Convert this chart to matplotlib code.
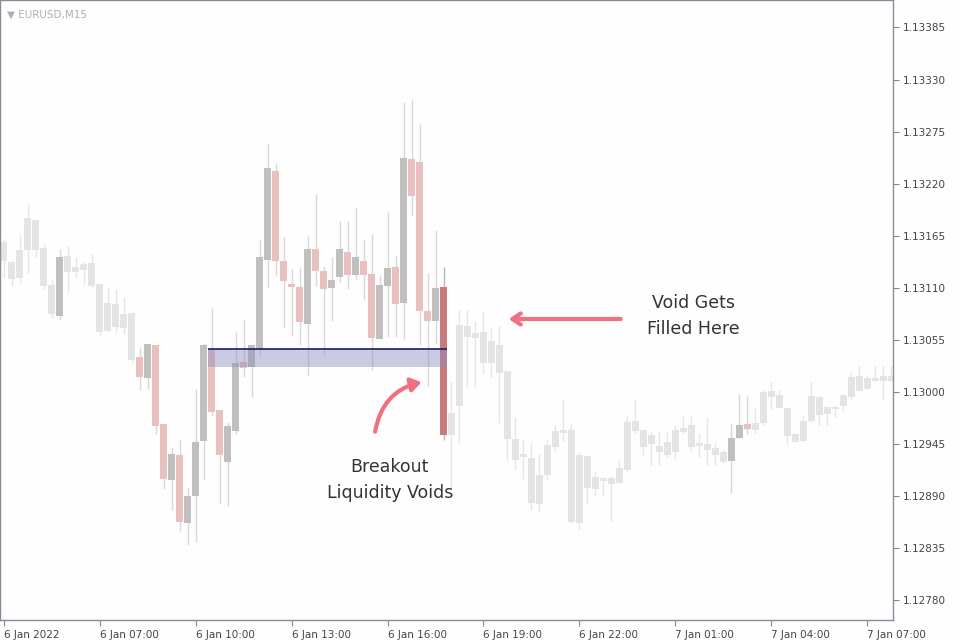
import matplotlib
matplotlib.use("Agg")
import matplotlib.pyplot as plt
from matplotlib.patches import FancyArrowPatch, Rectangle

# candles, EURUSD M15 (index 0 = first candle on the left)
opens = [1.13158, 1.13137, 1.13120, 1.13150, 1.13182, 1.13152, 1.13113, 1.13080, 1.13127, 1.13132,
         1.13129, 1.13136, 1.13114, 1.13064, 1.13093, 1.13068, 1.13083, 1.13037, 1.13015, 1.13050,
         1.12966, 1.12907, 1.12933, 1.12862, 1.12890, 1.12948, 1.13045, 1.12981, 1.12926, 1.12959,
         1.13032, 1.13026, 1.13045, 1.13139, 1.13233, 1.13138, 1.13114, 1.13111, 1.13072, 1.13151,
         1.13128, 1.13110, 1.13121, 1.13148, 1.13124, 1.13138, 1.13125, 1.13056, 1.13112, 1.13132,
         1.13094, 1.13246, 1.13243, 1.13085, 1.13075, 1.13111, 1.12954, 1.12985, 1.13070, 1.13062,
         1.13063, 1.13054, 1.13049, 1.13022, 1.12950, 1.12934, 1.12930, 1.12882, 1.12912, 1.12942,
         1.12959, 1.12960, 1.12862, 1.12932, 1.12897, 1.12909, 1.12909, 1.12904, 1.12917, 1.12969,
         1.12960, 1.12945, 1.12943, 1.12933, 1.12936, 1.12962, 1.12965, 1.12946, 1.12945, 1.12941,
         1.12937, 1.12927, 1.12951, 1.12966, 1.12960, 1.12967, 1.13001, 1.12997, 1.12983, 1.12955,
         1.12948, 1.12969, 1.12995, 1.12977, 1.12984, 1.12985, 1.12995, 1.13017, 1.13003, 1.13015,
         1.13012, 1.13017]
highs = [1.13162, 1.13138, 1.13166, 1.13198, 1.13182, 1.13156, 1.13119, 1.13151, 1.13155, 1.13142,
         1.13137, 1.13146, 1.13114, 1.13111, 1.13109, 1.13100, 1.13083, 1.13047, 1.13052, 1.13050,
         1.12967, 1.12942, 1.12950, 1.12898, 1.13003, 1.13052, 1.13089, 1.12981, 1.12968, 1.13063,
         1.13077, 1.13050, 1.13160, 1.13262, 1.13242, 1.13164, 1.13130, 1.13132, 1.13165, 1.13209,
         1.13133, 1.13143, 1.13181, 1.13180, 1.13194, 1.13162, 1.13167, 1.13123, 1.13190, 1.13144,
         1.13306, 1.13309, 1.13283, 1.13126, 1.13171, 1.13132, 1.13012, 1.13086, 1.13086, 1.13075,
         1.13085, 1.13068, 1.13070, 1.13022, 1.12973, 1.12950, 1.12946, 1.12934, 1.12949, 1.12965,
         1.12992, 1.12966, 1.12937, 1.12932, 1.12915, 1.12910, 1.12911, 1.12928, 1.12975, 1.12993,
         1.12960, 1.12959, 1.12959, 1.12958, 1.12965, 1.12974, 1.12974, 1.12956, 1.12972, 1.12946,
         1.12939, 1.12967, 1.12998, 1.12996, 1.12983, 1.13002, 1.13011, 1.13002, 1.12983, 1.12955,
         1.12975, 1.13011, 1.12996, 1.12984, 1.12985, 1.12998, 1.13021, 1.13028, 1.13018, 1.13028,
         1.13028, 1.13027]
lows = [1.13120, 1.13112, 1.13115, 1.13126, 1.13143, 1.13109, 1.13078, 1.13076, 1.13105, 1.13121,
        1.13114, 1.13111, 1.13060, 1.13063, 1.13063, 1.13061, 1.13030, 1.13002, 1.13003, 1.12955,
        1.12897, 1.12875, 1.12853, 1.12838, 1.12841, 1.12908, 1.12975, 1.12882, 1.12879, 1.12956,
        1.13016, 1.12995, 1.13038, 1.13111, 1.13123, 1.13067, 1.13059, 1.13049, 1.13017, 1.13112,
        1.13039, 1.13075, 1.13116, 1.13109, 1.13119, 1.13097, 1.13023, 1.13056, 1.13058, 1.13058,
        1.13056, 1.13187, 1.13050, 1.13006, 1.13051, 1.12949, 1.12898, 1.12946, 1.13005, 1.13005,
        1.13020, 1.13015, 1.12967, 1.12928, 1.12919, 1.12908, 1.12875, 1.12873, 1.12908, 1.12938,
        1.12948, 1.12861, 1.12854, 1.12882, 1.12890, 1.12890, 1.12864, 1.12903, 1.12915, 1.12956,
        1.12933, 1.12922, 1.12923, 1.12930, 1.12929, 1.12955, 1.12938, 1.12931, 1.12923, 1.12923,
        1.12925, 1.12893, 1.12951, 1.12955, 1.12955, 1.12965, 1.12982, 1.12983, 1.12945, 1.12947,
        1.12948, 1.12968, 1.12964, 1.12964, 1.12973, 1.12980, 1.12992, 1.13001, 1.13003, 1.13012,
        1.12991, 1.13012]
closes = [1.13138, 1.13119, 1.13150, 1.13184, 1.13150, 1.13112, 1.13082, 1.13143, 1.13144, 1.13127,
          1.13135, 1.13112, 1.13063, 1.13094, 1.13069, 1.13082, 1.13034, 1.13016, 1.13051, 1.12964,
          1.12908, 1.12934, 1.12863, 1.12890, 1.12947, 1.13049, 1.12979, 1.12933, 1.12964, 1.13031,
          1.13025, 1.13049, 1.13142, 1.13236, 1.13138, 1.13117, 1.13111, 1.13074, 1.13151, 1.13128,
          1.13109, 1.13118, 1.13151, 1.13123, 1.13142, 1.13124, 1.13057, 1.13113, 1.13131, 1.13093,
          1.13247, 1.13207, 1.13085, 1.13075, 1.13110, 1.12954, 1.12978, 1.13071, 1.13058, 1.13057,
          1.13030, 1.13031, 1.13020, 1.12950, 1.12928, 1.12931, 1.12883, 1.12912, 1.12944, 1.12959,
          1.12957, 1.12863, 1.12933, 1.12898, 1.12910, 1.12906, 1.12903, 1.12920, 1.12968, 1.12959,
          1.12942, 1.12954, 1.12937, 1.12947, 1.12960, 1.12958, 1.12942, 1.12943, 1.12939, 1.12933,
          1.12926, 1.12951, 1.12965, 1.12961, 1.12967, 1.13000, 1.12995, 1.12983, 1.12953, 1.12947,
          1.12969, 1.12996, 1.12976, 1.12984, 1.12982, 1.12997, 1.13016, 1.13001, 1.13015, 1.13012,
          1.13017, 1.13012]

# candles that are not faded out
focus = set(range(17, 55)) | {7, 91, 92, 93}
void_candle = 55

zone_start, zone_end = 25.5, 55.4
zone_top, zone_bottom = 1.13045, 1.13026

xtick_idx = [0, 12, 24, 36, 48, 60, 72, 84, 96, 108]
xtick_labels = ["6 Jan 2022", "6 Jan 07:00", "6 Jan 10:00", "6 Jan 13:00", "6 Jan 16:00",
                "6 Jan 19:00", "6 Jan 22:00", "7 Jan 01:00", "7 Jan 04:00", "7 Jan 07:00"]
yticks = [1.12780, 1.12835, 1.12890, 1.12945, 1.13000, 1.13055, 1.13110,
          1.13165, 1.13220, 1.13275, 1.13330, 1.13385]

fig = plt.figure(figsize=(9.6, 6.4), dpi=100, facecolor="#fefefe")
ax = fig.add_axes([0.0, 20 / 640, 893 / 960, 620 / 640], facecolor="#fefefe")

w = 0.84
for i in range(len(opens)):
    o, h, l, c = opens[i], highs[i], lows[i], closes[i]
    if i == void_candle:
        col, wick = "#c87a7a", "#b8b8b8"
    elif i in focus:
        col = "#bfbfbf" if c >= o else "#e8c0c0"
        wick = "#d8d8d8"
    else:
        col, wick = "#e4e4e4", "#e6e6e6"
    ax.vlines(i, l, h, color=wick, lw=1.0, zorder=1)
    bot = min(o, c)
    hgt = max(abs(c - o), 0.000025)
    ax.bar(i, hgt, bottom=bot, width=w, color=col, lw=0, zorder=2)

ax.add_patch(Rectangle((zone_start, zone_bottom), zone_end - zone_start, zone_top - zone_bottom,
                       facecolor="#8c8cc0", alpha=0.45, lw=0, zorder=3))
ax.hlines(zone_top, zone_start, zone_end, color="#1c1c5c", lw=1.2, zorder=4)

# annotations
arrow_col = "#f07080"
ax.add_patch(FancyArrowPatch((46.4, 1.12955), (52.6, 1.13011), connectionstyle="arc3,rad=-0.35",
                             arrowstyle="-|>,head_length=6,head_width=4", color=arrow_col,
                             lw=3, zorder=5))
ax.annotate("", xy=(62.8, 1.13077), xytext=(77.5, 1.13077),
            arrowprops=dict(arrowstyle="->,head_length=0.6,head_width=0.4", color=arrow_col, lw=3))
ax.text(48.3, 1.12907, "Breakout\nLiquidity Voids", ha="center", va="center", fontsize=12.5,
        color="#333333", linespacing=1.6, family="DejaVu Sans")
ax.text(86.2, 1.13080, "Void Gets\nFilled Here", ha="center", va="center", fontsize=12.5,
        color="#333333", linespacing=1.6, family="DejaVu Sans")

ax.text(0.008, 0.985, "\u25bc EURUSD,M15", transform=ax.transAxes, fontsize=7.5,
        color="#b0b0b0", ha="left", va="top")

ax.set_xlim(-0.44, 111.19)
ax.set_ylim(1.12759, 1.13414)
ax.yaxis.tick_right()
ax.set_yticks(yticks)
ax.set_yticklabels([f"{v:.5f}" for v in yticks], fontsize=7.5, color="#444444")
ax.set_xticks(xtick_idx)
ax.set_xticklabels(xtick_labels, fontsize=7.5, color="#444444", ha="left")
ax.tick_params(axis="x", length=4, color="#888888", pad=3)
ax.tick_params(axis="y", length=4, color="#888888", pad=3)
for s in ax.spines.values():
    s.set_color("#8a8a9a")
    s.set_linewidth(1)

fig.savefig("out.png", dpi=100, facecolor=fig.get_facecolor())
